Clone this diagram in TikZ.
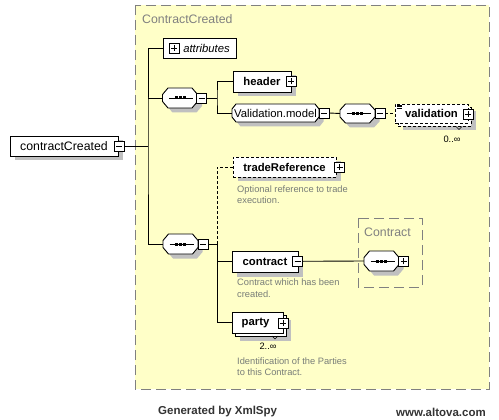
\documentclass[tikz,border=0pt]{standalone}
\usepackage{fontspec}
\setmainfont{Liberation Sans}
\usetikzlibrary{shadows}
\definecolor{groupyellow}{RGB}{255,255,200}
\definecolor{groupgray}{RGB}{128,128,128}
\definecolor{shadowgray}{RGB}{192,192,192}
\definecolor{descgray}{RGB}{120,125,120}
\newcommand\itemfont{\fontsize{11.3}{13}\selectfont}
\newcommand\rootfont{\fontsize{12.3}{14}\selectfont}
\newcommand\descfont{\fontsize{9.3}{11.4}\selectfont}
\def\octagon(#1,#2)(#3,#4)(#5,#6){%
  \pgfmathsetmacro\oL{#1-#3/2}\pgfmathsetmacro\oR{#1+#3/2}%
  \pgfmathsetmacro\oT{#2-#4/2}\pgfmathsetmacro\oB{#2+#4/2}%
  \foreach \dd/\sty in {4.5/octshadow, 0/octline}
    \path[\sty, shift={(\dd,\dd)}] (\oL,\oT+#6) -- (\oL+#5,\oT) -- (\oR-#5,\oT) -- (\oR,\oT+#6)
      -- (\oR,\oB-#6) -- (\oR-#5,\oB) -- (\oL+#5,\oB) -- (\oL,\oB-#6) -- cycle;}
\def\seqdots(#1){\draw[line width=0.9pt] (#1.center) ++(-11pt,0) -- ++(24pt,0);
  \foreach \dx in {-4,0,4} {\fill ([xshift=\dx pt]#1.center) ++(-1.5pt,-1.5pt) rectangle ++(3pt,3pt);}}
\tikzset{
  box/.style={draw, fill=white, line width=0.9pt, inner sep=0pt, font=\itemfont},
  shadowed/.style={general shadow={fill=shadowgray, shadow xshift=4.5pt, shadow yshift=-4.5pt}},
  elem/.style={box, shadowed, font=\itemfont\bfseries},
  optional/.style={dash pattern=on 3pt off 2pt},
  multi/.style={general shadow={fill=shadowgray, shadow xshift=7.5pt, shadow yshift=-7.5pt},
    copy shadow={shadow xshift=3pt, shadow yshift=-3pt}},
  octshadow/.style={fill=shadowgray},
  octline/.style={draw, fill=white, line width=0.9pt},
  slot/.style={inner sep=0pt, font=\itemfont},
  plusbox/.style={draw, fill=white, line width=0.8pt, minimum size=10pt, inner sep=0pt,
    path picture={\draw[line width=0.8pt] ([xshift=-3pt]path picture bounding box.center) -- ([xshift=3pt]path picture bounding box.center);
      \draw[line width=0.8pt] ([yshift=-3pt]path picture bounding box.center) -- ([yshift=3pt]path picture bounding box.center);}},
  minusbox/.style={draw, fill=white, line width=0.8pt, minimum size=10pt, inner sep=0pt,
    path picture={\draw[line width=0.8pt] ([xshift=-3pt]path picture bounding box.center) -- ([xshift=3pt]path picture bounding box.center);}},
  conn/.style={line width=0.9pt},
  optconn/.style={conn, dash pattern=on 3pt off 2pt},
  groupbox/.style={draw=groupgray, fill=groupyellow, line width=0.9pt, dash pattern=on 10pt off 5pt},
  typebox/.style={draw=groupgray, line width=0.9pt, dash pattern=on 10pt off 5pt},
  grouptitle/.style={anchor=west, inner sep=0pt, text=groupgray, font=\rootfont},
  desc/.style={anchor=north west, align=left, inner sep=0pt, text=descgray, font=\descfont},
  occ/.style={inner sep=0pt, font=\descfont},
  footer/.style={inner sep=0pt, text=black!80, font=\fontsize{11.5}{13}\selectfont\bfseries}
}
\begin{document}
\begin{tikzpicture}[x=1pt,y=-1pt]
	%%%%% START %%%%%
	\useasboundingbox (0,0) rectangle (499,420);
	
	\draw[groupbox] (135,5) rectangle (489,389);
	\node[grouptitle] (cctitle) at (142,19) {ContractCreated};
	
	\node[box, shadowed, font=\rootfont, minimum width=108pt, minimum height=20pt] (cc) at (64,146) {contractCreated};
	\node[minusbox] (ccm) at (119.3,146) {};
	\coordinate (j1) at (148,146);
	
	\node[box, font=\itemfont\itshape, minimum width=73pt, minimum height=20pt] (attr) at (199.5,48) {\hspace*{14pt}attributes};
	\node[plusbox] (attrp) at (174,48) {};
	
	\octagon(180,98)(35,20)(5.5,6.5)
	\node[slot, minimum width=35pt, minimum height=20pt] (seq1) at (180,98) {};
	\seqdots(seq1)
	\node[minusbox] (seq1m) at (201.7,98) {};
	\coordinate (j2) at (217,98);
	
	\node[elem, minimum width=58pt, minimum height=21pt] (header) at (262,81.5) {header};
	\node[plusbox] (headerp) at (291.3,81.5) {};
	
	\octagon(275.5,113)(87,18)(4,5)
	\node[slot, minimum width=87pt, minimum height=18pt] (vmodel) at (275.5,113) {Validation.model};
	\node[minusbox] (vmodelm) at (324,113) {};
	\octagon(357.5,113.5)(35,19)(5.5,6)
	\node[slot, minimum width=35pt, minimum height=19pt] (seq2) at (357.5,113.5) {};
	\seqdots(seq2)
	\node[minusbox] (seq2m) at (380,113.5) {};
	
	\node[box, multi, optional, font=\itemfont\bfseries, minimum width=73pt, minimum height=19pt] (valid) at (431.5,113.5) {validation};
	\node[plusbox] (validp) at (468,114) {};
	\draw[line width=0.6pt] (397,105) -- (402,105) (397,106.8) -- (402,106.8) (397,108.6) -- (402,108.6);
	\draw[line width=0.6pt] (456,126.5) -- (459,129.5) -- (462,126.5);
	\node[occ] (validocc) at (452,139) {0..∞};
	
	\node[elem, optional, minimum width=103pt, minimum height=20pt] (trade) at (284.5,167) {tradeReference};
	\node[plusbox] (tradep) at (339.7,167) {};
	\node[desc] (tradedesc) at (237,185.5) {Optional reference to trade\\execution.};
	
	\octagon(180.5,244)(35,20)(5.5,6.5)
	\node[slot, minimum width=35pt, minimum height=20pt] (seq3) at (180.5,244) {};
	\seqdots(seq3)
	\node[minusbox] (seq3m) at (203,244) {};
	\coordinate (j3) at (217,244);
	
	\node[elem, minimum width=66pt, minimum height=21pt] (contract) at (265,261.5) {contract};
	\node[minusbox] (contractm) at (297.7,261.3) {};
	\node[desc] (contractdesc) at (237,279) {Contract which has been\\created.};
	
	\draw[typebox] (358,218) rectangle (422,287);
	\node[grouptitle] (ctitle) at (364,232) {Contract};
	\octagon(381.5,261)(35,20)(5.5,6.5)
	\node[slot, minimum width=35pt, minimum height=20pt] (seq4) at (381.5,261) {};
	\seqdots(seq4)
	\node[plusbox] (seq4p) at (403.7,261.3) {};
	
	\node[box, multi, font=\itemfont\bfseries, minimum width=51pt, minimum height=21pt] (party) at (257.5,322.5) {party\hspace*{4pt}};
	\node[plusbox] (partyp) at (283,323) {};
	\draw[line width=0.6pt] (272,336) -- (275,339) -- (278,336);
	\node[occ] (partyocc) at (268,346) {2..∞};
	\node[desc] (partydesc) at (237,357.5) {Identification of the Parties\\to this Contract.};
	
	% connectors
	\draw[conn] (ccm.east) -- (j1);
	\draw[conn] (attr.west) -| (j1) |- (seq3.west);
	\draw[conn] (seq1.west) -- (seq1.west -| j1);
	\draw[conn] (seq1m.east) -- (j2);
	\draw[conn] (header.west) -| (j2) |- (vmodel.west);
	\draw[conn] (vmodelm.east) -- (seq2.west);
	\draw[optconn] (seq2m.east) -- (valid.west);
	\draw[conn] (seq3m.east) -- (j3);
	\draw[optconn] (trade.west) -| (j3);
	\draw[conn] (j3) |- (party.west);
	\draw[conn] (contract.west) -- (contract.west -| j3);
	\draw[conn] (contractm.east) -- (seq4.west);
	
	\node[footer, anchor=west] (gen) at (158,412) {Generated by XmlSpy};
	\node[footer, anchor=east] (web) at (486,412) {www.altova.com};
	
	%%%%% END %%%%%
\end{tikzpicture}
\end{document}
